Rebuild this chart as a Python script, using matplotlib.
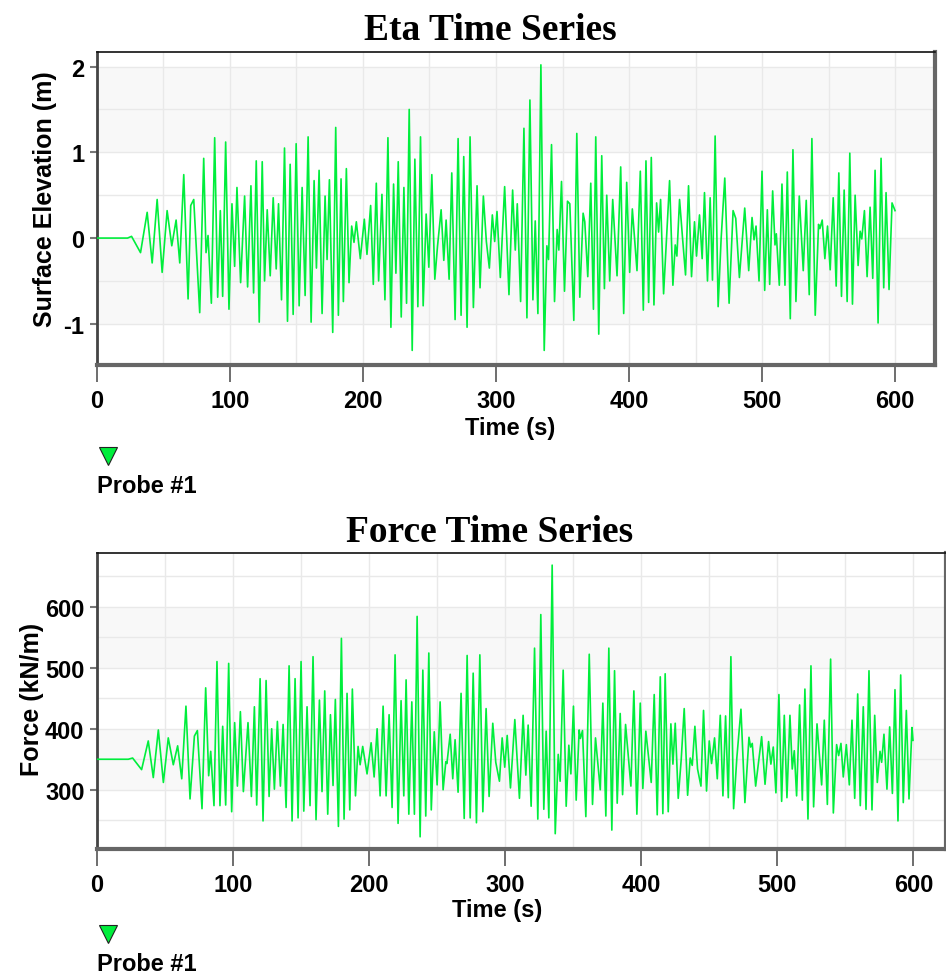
import matplotlib
matplotlib.use("Agg")
import matplotlib.pyplot as plt
from matplotlib.lines import Line2D
from matplotlib.ticker import MultipleLocator

# 값 읽기: 원본 그림의 극값(peak/trough)을 직접 읽어온 것
eta_t = [0, 23, 26, 32.75, 37.75, 41.5, 45.25, 49, 52.75, 56.25, 59.5, 62.25, 65.25, 68.5, 70.5, 72.75,
         77.25, 80.25, 82, 83.5, 86, 88.5, 90.75, 92.75, 94.5, 96.75, 99.25, 101.5, 103.5, 105.25, 108,
         111, 113.25, 115.75, 117.75, 119.75, 122, 124.25, 126, 128, 130.25, 132.5, 134.75, 136.5, 138.75,
         141, 143.25, 145.25, 147.5, 149.75, 152, 154.25, 156.5, 158.75, 161, 163.25, 165, 167, 169.25,
         171.5, 173, 174.75, 177.25, 179.5, 181.5, 183.5, 185.25, 187.5, 189.5, 191.5, 193.25, 195, 198,
         201, 203, 205.75, 207.75, 210, 211.75, 214.25, 216.5, 218.75, 221, 223, 224.75, 226.5, 228.75,
         230.75, 232.75, 234.75, 237, 239, 241.25, 243.25, 245.25, 247.5, 249.5, 251.75, 254, 256, 258.75,
         260.75, 262.5, 264.75, 266.75, 269.25, 271.5, 273.75, 275.75, 278.25, 280.5, 283, 285.75, 288,
         290.5, 292.75, 295, 297.25, 299, 300.75, 303.25, 306.5, 309.75, 312.5, 314.5, 316, 318.5, 321,
         323.25, 325.5, 327.75, 329.5, 331.5, 333.75, 336.25, 338.25, 339.5, 341.75, 344, 346, 347.25,
         349.25, 351.5, 353.75, 355.5, 358.5, 360.75, 363, 365.5, 366.75, 369, 371.25, 373.25, 375, 377.25,
         379.5, 381.5, 383.25, 385.5, 387.75, 391, 393.75, 396, 398.25, 400.5, 402.5, 406, 408.5, 410.75,
         412.75, 414.75, 416.75, 418.75, 420.75, 422.25, 423.75, 426, 428.25, 430.5, 433, 434.75, 436, 438,
         440.25, 442.5, 444.75, 447, 449.25, 450.75, 453, 455, 456.75, 459, 461, 462.75, 464.75, 467,
         469.25, 472, 475.25, 478.25, 480.25, 483, 487, 490, 492.5, 494, 495.5, 497.75, 500, 502, 504,
         505.75, 508, 509.75, 510.75, 513, 515, 517.25, 519, 521.25, 523.25, 525.5, 528, 531, 533.25,
         535.5, 537.5, 540, 542.5, 543.5, 545.25, 547.25, 549.25, 551.25, 553.5, 555.75, 557.75, 559.75,
         561.75, 564, 566, 568, 570, 572.25, 573.75, 575, 577, 579, 581.25, 583.25, 585, 587.25, 589.5,
         591.5, 593.25, 595.5, 597.75, 600]
eta_v = [0, 0, 0.02, -0.17, 0.30, -0.29, 0.45, -0.40, 0.32, -0.09, 0.21, -0.29, 0.74, -0.71, 0.38, 0.45,
         -0.87, 0.93, -0.17, 0.03, -0.76, 1.17, -0.69, 0.32, -0.68, 1.12, -0.83, 0.40, -0.33, 0.59, -0.52,
         0.49, -0.57, 0.61, -0.64, 0.90, -0.98, 0.89, -0.50, 0.33, -0.44, 0.47, -0.36, 0.40, -0.72,
         1.05, -0.97, 0.86, -0.89, 1.10, -0.79, 0.59, -0.67, 1.18, -0.98, 0.67, -0.35, 0.79, -0.88,
         0.49, -0.25, 0.68, -1.10, 1.29, -0.90, 0.69, -0.74, 0.81, -0.52, 0.14, -0.05, 0.19, -0.24,
         0.22, -0.19, 0.38, -0.54, 0.64, -0.50, 0.51, -0.72, 1.17, -1.04, 0.63, -0.41, 0.89, -0.92,
         0.59, -0.76, 1.50, -1.31, 0.92, -0.80, 1.18, -0.79, 0.28, -0.34, 0.74, -0.48, -0.10, 0.33,
         -0.26, 0.21, -0.48, 0.76, -0.95, 1.16, -0.90, 0.95, -1.04, 1.18, -0.81, 0.61, -0.58,
         0.49, -0.04, -0.35, 0.27, -0.04, 0.31, -0.46, 0.60, -0.66, 0.56, -0.14, 0.40, -0.74, 1.28,
         -0.93, 1.61, -0.72, 0.20, -0.88, 2.02, -1.31, -0.09, -0.25, 1.09, -0.74, 0.10, -0.14,
         0.66, -0.62, 0.43, 0.40, -0.96, 1.22, -0.69, 0.29, 0.19, -0.45, 0.64, -0.83, 1.18, -1.12,
         0.96, -0.59, 0.50, -0.50, 0.45, -0.44, 0.83, -0.88, 0.65, -0.40, 0.34, -0.38, 0.78, -0.84,
         0.90, -0.75, 0.94, -0.78, 0.41, 0.07, 0.45, -0.65, 0.0, 0.67, -0.55, -0.08, -0.21, 0.45,
         0.0, -0.43, 0.61, -0.45, 0.19, -0.21, 0.27, -0.24, 0.53, -0.50, 0.47, -0.49, 1.19, -0.80,
         -0.01, 0.70, -0.76, 0.32, 0.23, -0.46, 0.35, -0.38, 0.24, -0.02, 0.14, -0.50, 0.78, -0.61, 0.33,
         -0.54, 0.55, -0.08, 0.05, -0.55, 0.63, -0.55, 0.77, -0.94, 1.03, -0.74, 0.49, -0.38, 0.44,
         -0.66, 1.16, -0.90, 0.16, 0.11, 0.21, -0.24, 0.14, -0.37, 0.47, -0.56, 0.76, -0.68,
         0.56, -0.74, 0.99, -0.77, 0.50, -0.32, 0.08, -0.01, 0.32, -0.45, 0.36, -0.47, 0.79, -0.99, 0.93,
         -0.58, 0.53, -0.60, 0.41, 0.32]

force_t = [0, 23, 26.2, 32.8, 37.7, 41.4, 45.1, 48.8, 52.4, 56.1, 59.3, 62.3, 65.4, 68.4, 71.6, 73.8, 77.2,
           79.9, 82.1, 83.6, 86.0, 88.2, 90.4, 92.4, 94.6, 96.8, 99.0, 101.2, 103.2, 105.4, 107.6, 111.0,
           113.5, 115.7, 117.4, 119.9, 122.05, 124.3, 126.5, 128.4, 130.4, 132.6, 134.8, 136.8, 139, 141.2,
           143.4, 145.6, 147.8, 150, 152, 154.4, 156.6, 158.8, 161, 163.5, 165.4, 167.4, 169.6, 171.6,
           173.5, 175.2, 177.45, 179.65, 181.6, 183.8, 185.8, 187.7, 190, 191.9, 193.4, 195.3, 198.5,
           201.5, 203.7, 205.9, 208.1, 210.3, 212.5, 214.7, 216.9, 219.1, 221.3, 223.5, 225.5, 227.2,
           229.2, 231.4, 233.3, 235.3, 237.5, 239.5, 241.65, 243.9, 245.7, 247.9, 250, 252.2, 254.4,
           256.4, 257.2, 259.6, 261.5, 263.2, 265.4, 267.6, 269.9, 272.05, 274.3, 276.5, 278.9, 281.4,
           283.6, 286, 288.2, 290.9, 293.1, 295.8, 297.8, 299.7, 301.5, 303.9, 307.1, 310.5, 313.2, 315.2,
           316.9, 319.1, 321.6, 324, 326.2, 328.4, 330.15, 332.1, 334.55, 336.8, 339, 340.4, 342.65,
           344.85, 346.8, 348.3, 350.2, 352.2, 354.4, 355.3, 356.85, 359.3, 361.8, 364.2, 366.4, 369.9,
           371.8, 374, 376.2, 378.4, 380.4, 382.35, 384.55, 386.3, 388.5, 392.4, 394.6, 396.8, 399.3,
           401.2, 403.4, 407.35, 409.55, 411.75, 414, 415.9, 417.6, 419.85, 421.8, 423.3, 425, 427.2,
           429.4, 431.6, 434.1, 436, 437.5, 439.45, 441.4, 443.9, 445.8, 448, 450, 451.7, 453.9, 455.9,
           458.1, 460.05, 462, 464, 465.9, 467.9, 470.3, 473.3, 476.2, 479.2, 480.4, 481.6, 484.1, 488.5,
           491, 493.6, 495.3, 497.05, 499, 501.2, 503.2, 505.15, 507.1, 509.3, 511, 512.5, 514.2, 516.4,
           518.4, 520.3, 522.55, 524.75, 526.7, 529.2, 532.6, 534.55, 536.8, 539.2, 541.2, 543.6, 545.1,
           546.8, 548.5, 550.75, 552.95, 554.9, 556.9, 559.1, 561, 563.2, 565.2, 567.4, 569.6, 571.6,
           573.5, 575.5, 576.7, 578.4, 580.6, 582.6, 584.6, 586.5, 588.7, 590.7, 592.6, 594.85, 596.8,
           599, 599.75]
force_v = [350, 350, 352, 333, 380, 320, 398, 312, 385, 341, 372, 318, 437, 285, 388, 397, 269,
           467, 323, 363, 274, 510, 274, 404, 275, 507, 264, 410, 306, 428, 297, 410,
           289, 436, 275, 482, 249, 479, 289, 400, 301, 412, 306, 407, 271, 503,
           249, 482, 254, 510, 265, 436, 274, 518, 251, 447, 297, 462, 260, 423,
           307, 448, 240, 548, 252, 458, 267, 465, 290, 371, 341, 371, 326,
           377, 321, 400, 290, 437, 290, 423, 271, 521, 245, 446, 290, 480,
           260, 444, 260, 584, 223, 496, 257, 524, 267, 395, 308, 444, 300,
           346, 343, 391, 318, 382, 296, 458, 253, 520, 254, 491, 246, 521,
           264, 433, 289, 409, 345, 314, 385, 337, 389, 303, 415, 286, 422, 324,
           406, 273, 532, 252, 587, 268, 396, 254, 668, 228, 358, 314, 496,
           273, 373, 326, 437, 283, 398, 384, 397, 256, 522, 276, 385, 300,
           442, 257, 532, 234, 495, 278, 425, 292, 407, 306, 462, 260, 442,
           302, 396, 312, 456, 259, 485, 261, 490, 264, 408, 342, 409, 286,
           350, 433, 291, 352, 340, 404, 334, 306, 430, 298, 380, 343, 385, 318,
           422, 290, 421, 287, 518, 269, 353, 432, 279, 386, 370, 376, 306, 387,
           309, 379, 342, 370, 295, 456, 281, 422, 287, 422, 334, 364, 290, 439,
           283, 465, 252, 503, 272, 408, 308, 414, 276, 514, 262, 374, 356,
           376, 321, 374, 308, 414, 286, 457, 274, 436, 268, 495, 267, 422,
           312, 363, 345, 391, 301, 403, 294, 464, 249, 488, 279, 430, 285,
           402, 381]

x_ticks = [0, 100, 200, 300, 400, 500, 600]
eta_ticks = [-1, 0, 1, 2]
force_ticks = [300, 400, 500, 600]

GREEN = "#00ee3c"

plt.rcParams["font.family"] = ["Liberation Sans", "DejaVu Sans"]
plt.rcParams["font.weight"] = "bold"
plt.rcParams["axes.unicode_minus"] = False

fig = plt.figure(figsize=(9.46, 9.78), dpi=100)


def style_axes(ax, yticks, ystep, bands):
    # 배경 띠 (major tick 사이를 번갈아 회색으로)
    for lo, hi in bands:
        ax.axhspan(lo, hi, color="#f8f8f8", zorder=0, lw=0)
    ax.set_xticks(x_ticks)
    ax.xaxis.set_minor_locator(MultipleLocator(50))
    ax.set_yticks(yticks)
    ax.yaxis.set_minor_locator(MultipleLocator(ystep))
    ax.grid(which="both", color="#e9e9e9", lw=1, zorder=1)
    ax.set_axisbelow(True)
    ax.tick_params(axis="x", which="major", length=12, width=1.2, color="#555555",
                   labelsize=17, pad=5)
    ax.tick_params(axis="y", which="major", length=5, width=1.5, color="#777777",
                   labelsize=17, pad=4)
    ax.tick_params(which="minor", length=0)
    ax.spines["top"].set_color("#111111")
    ax.spines["top"].set_linewidth(1.2)
    ax.spines["left"].set_color("#444444")
    ax.spines["left"].set_linewidth(2)
    ax.spines["bottom"].set_color("#666666")
    ax.spines["bottom"].set_linewidth(3)
    ax.spines["right"].set_color("#666666")
    ax.spines["right"].set_linewidth(3)


# 위쪽: Eta
ax1 = fig.add_axes([0.1025, 0.6258, 0.8858, 0.3200])
ax1.plot(eta_t, eta_v, color=GREEN, lw=1.2, zorder=3)
ax1.set_xlim(0, 630)
ax1.set_ylim(-1.48, 2.17)
style_axes(ax1, eta_ticks, 0.5, [(-1, 0), (1, 2)])
ax1.set_xlabel("Time (s)", fontsize=17, fontweight="bold")
ax1.xaxis.set_label_coords(0.493, -0.162)
ax1.set_ylabel("Surface Elevation (m)", fontsize=18, fontweight="bold")
ax1.yaxis.set_label_coords(-0.048, 0.532)

# 아래쪽: Force
ax2 = fig.add_axes([0.1025, 0.1309, 0.8975, 0.3027])
ax2.plot(force_t, force_v, color=GREEN, lw=1.2, zorder=3)
ax2.set_xlim(0, 624)
ax2.set_ylim(203, 688)
style_axes(ax2, force_ticks, 50, [(300, 400), (500, 600)])
ax2.set_xlabel("Time (s)", fontsize=17, fontweight="bold")
ax2.xaxis.set_label_coords(0.471, -0.166)
ax2.set_ylabel("Force (kN/m)", fontsize=18, fontweight="bold")
ax2.yaxis.set_label_coords(-0.062, 0.507)

# 제목
fig.text(0.518, 1 - 31 / 978, "Eta Time Series", ha="center", va="center",
         family="Liberation Serif", fontweight="bold", fontsize=27)
fig.text(0.517, 1 - 532 / 978, "Force Time Series", ha="center", va="center",
         family="Liberation Serif", fontweight="bold", fontsize=27)

# 범례 (삼각형 + Probe #1)
for my, ty in [(457, 487), (935, 965)]:
    fig.add_artist(Line2D([108 / 946], [1 - my / 978], marker="v", markersize=13,
                          markerfacecolor=GREEN, markeredgecolor="#222222",
                          markeredgewidth=0.8, linestyle="none", transform=fig.transFigure))
    fig.text(97 / 946, 1 - ty / 978, "Probe #1", ha="left", va="center",
             fontsize=17, fontweight="bold")

fig.savefig("out.png", dpi=100)
